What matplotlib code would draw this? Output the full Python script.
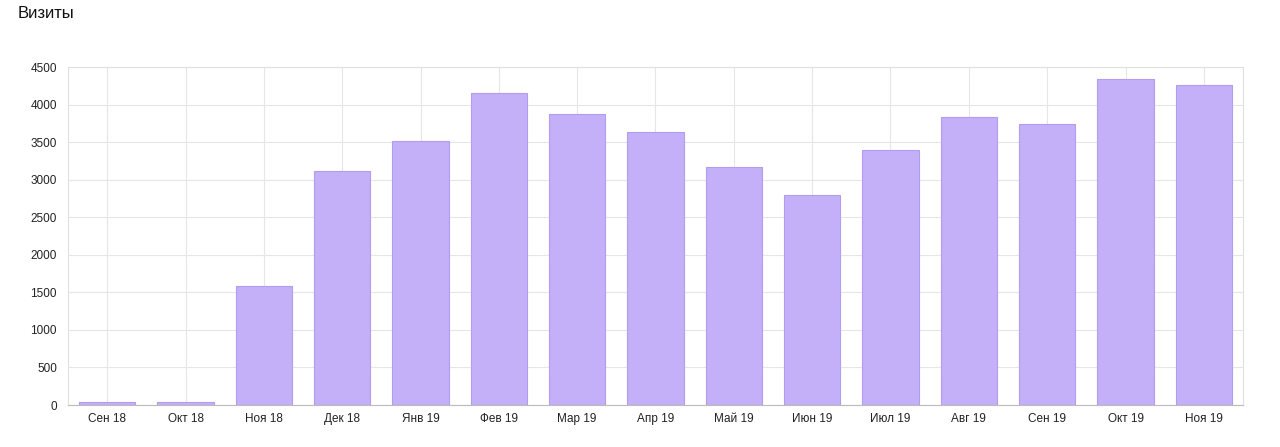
import matplotlib
matplotlib.use("Agg")
import matplotlib.pyplot as plt

categories = ["Сен 18", "Окт 18", "Ноя 18", "Дек 18", "Янв 19", "Фев 19", "Мар 19", "Апр 19",
              "Май 19", "Июн 19", "Июл 19", "Авг 19", "Сен 19", "Окт 19", "Ноя 19"]
visits = [40, 40, 1580, 3110, 3510, 4150, 3880, 3630, 3175, 2790, 3400, 3830, 3735, 4335, 4255]
yticks = [0, 500, 1000, 1500, 2000, 2500, 3000, 3500, 4000, 4500]

plt.rcParams['font.family'] = ['Liberation Sans', 'DejaVu Sans']
fig = plt.figure(figsize=(12.8, 4.47), dpi=100)
ax = fig.add_axes([68/1280, 1-405/447, (1243-68)/1280, (405-67)/447])
x = range(len(categories))
ax.bar(x, visits, width=0.72, color="#c4b0f8", edgecolor="#b29cf0", linewidth=0.8, zorder=2)
ax.set_xlim(-0.5, len(categories)-0.5)
ax.set_ylim(0, 4500)
ax.set_yticks(yticks)
ax.set_xticks(list(x))
ax.set_xticklabels(categories, fontsize=8.5, color="#222222")
ax.tick_params(axis='y', labelsize=8.5, colors="#222222", length=0, pad=8)
ax.tick_params(axis='x', length=0, pad=6)
ax.grid(True, color="#e6e6e6", linewidth=0.8, zorder=0)
for s in ax.spines.values():
    s.set_color("#e0e0e0")
ax.spines['bottom'].set_color("#bbbbbb")
fig.text(18/1280, 1-14/447, "Визиты", fontsize=12, va="center", ha="left", color="#111111")
fig.savefig("out.png", dpi=100)
